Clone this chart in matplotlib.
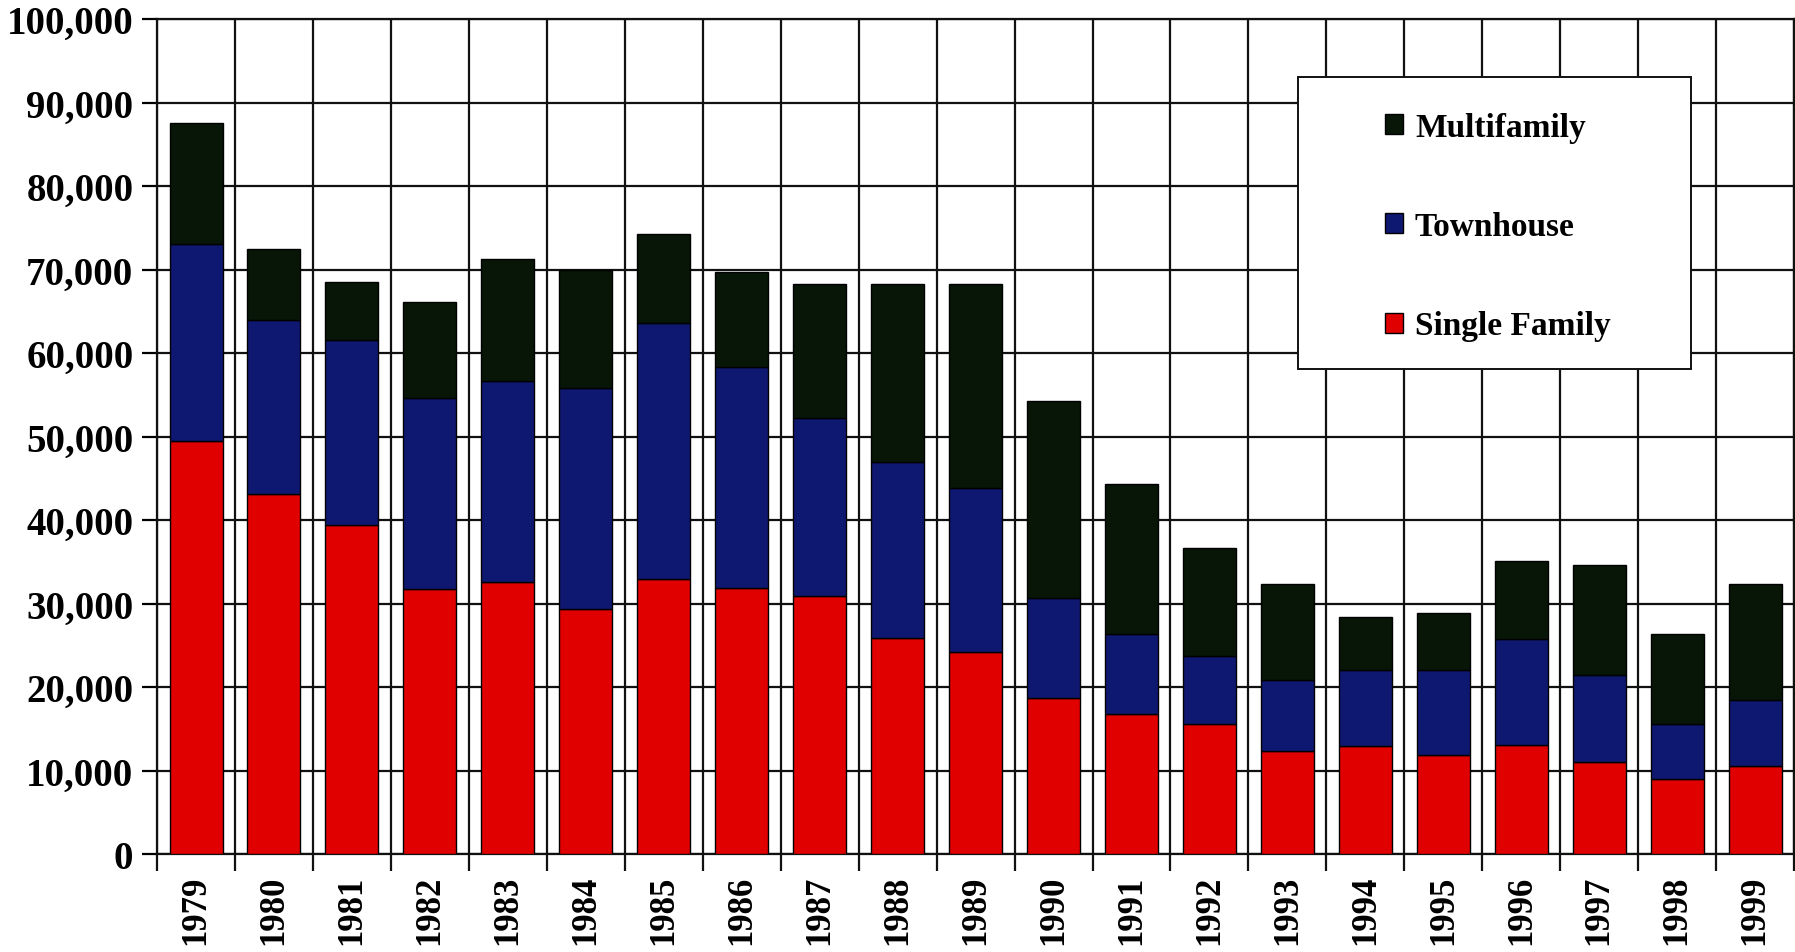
import numpy as np
import matplotlib.pyplot as plt
from matplotlib.patches import Rectangle
from matplotlib.ticker import FuncFormatter, MultipleLocator

# data (units built per year)
years = ['1979', '1980', '1981', '1982', '1983', '1984', '1985', '1986', '1987', '1988',
         '1989', '1990', '1991', '1992', '1993', '1994', '1995', '1996', '1997', '1998', '1999']
single_family = [49500, 43100, 39400, 31700, 32600, 29300, 32900, 31900, 30900, 25900,
                 24200, 18700, 16800, 15600, 12300, 12900, 11800, 13100, 11000, 9000, 10600]
townhouse = [23600, 20800, 22200, 22900, 24000, 26500, 30700, 26400, 21300, 21100,
             19600, 12000, 9500, 8100, 8500, 9100, 10200, 12600, 10500, 6600, 7900]
multifamily = [14400, 8500, 6900, 11500, 14700, 14100, 10700, 11400, 16100, 21300,
               24500, 23500, 18000, 12900, 11500, 6400, 6900, 9400, 13100, 10800, 13800]

col_single = '#e00000'
col_town = '#0f1870'
col_multi = '#081608'

plt.rcParams['font.family'] = ['Liberation Serif', 'DejaVu Serif']
plt.rcParams['font.weight'] = 'bold'

fig = plt.figure(figsize=(17.95, 9.53), dpi=100)
ax = fig.add_axes([0.0875, 0.1028, 0.9120, 0.8762])

x = np.arange(len(years))
sf = np.array(single_family)
th = np.array(townhouse)
mf = np.array(multifamily)
w = 0.68
kw = dict(width=w, edgecolor='black', linewidth=1.0, zorder=3)
b1 = ax.bar(x, sf, color=col_single, label='Single Family', **kw)
b2 = ax.bar(x, th, bottom=sf, color=col_town, label='Townhouse', **kw)
b3 = ax.bar(x, mf, bottom=sf + th, color=col_multi, label='Multifamily', **kw)

ax.set_xlim(-0.5, len(years) - 0.5)
ax.set_ylim(0, 100000)
ax.yaxis.set_major_locator(MultipleLocator(10000))
ax.yaxis.set_major_formatter(FuncFormatter(lambda v, p: f'{int(v):,}'))

ax.set_xticks(x)
ax.set_xticklabels(years, rotation=90)
ax.set_xticks(np.arange(-0.5, len(years)), minor=True)
ax.tick_params(axis='x', which='major', length=0, pad=15, labelsize=25)
ax.tick_params(axis='x', which='minor', length=12, width=1.6, color='#111111')
ax.tick_params(axis='y', which='major', length=11, width=1.6, pad=6, labelsize=28)

ax.grid(True, axis='y', which='major', color='#111111', linewidth=1.6, zorder=0)
ax.grid(True, axis='x', which='minor', color='#111111', linewidth=1.6, zorder=0)
ax.set_axisbelow(True)
for s in ax.spines.values():
    s.set_linewidth(1.6)
    s.set_color('#111111')

# legend box
box = Rectangle((0.697, 0.581), 0.240, 0.349, transform=ax.transAxes,
                facecolor='white', edgecolor='#111111', linewidth=1.4, zorder=5)
ax.add_patch(box)
leg = ax.legend([b3, b2, b1], ['Multifamily', 'Townhouse', 'Single Family'],
                loc='center', bbox_to_anchor=(0.697 + 0.122, 0.581 + 0.1705),
                frameon=False, fontsize=24, labelspacing=2.05,
                handlelength=0.55, handleheight=0.55, handletextpad=0.35)
leg.set_zorder(6)

fig.savefig('out.png', dpi=100, facecolor='white')
